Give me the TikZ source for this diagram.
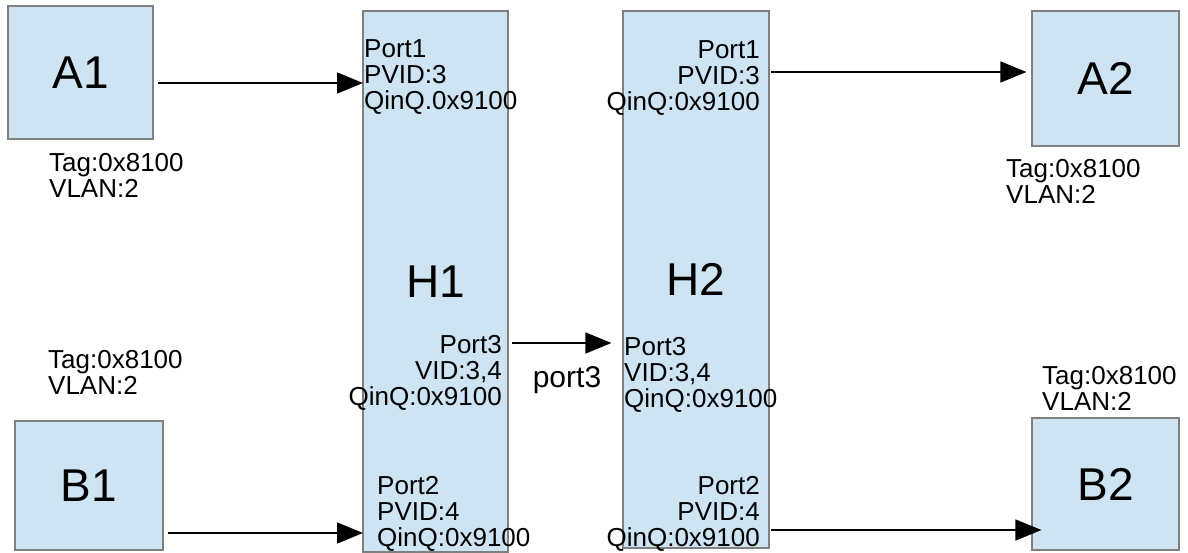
\documentclass[tikz,border=0pt]{standalone}
\usepackage{fontspec}
\setmainfont{Liberation Sans}
\usetikzlibrary{arrows.meta}
\definecolor{boxblue}{RGB}{207,228,243}
\definecolor{boxline}{RGB}{128,128,128}
\tikzset{
  dev/.style={draw=boxline, line width=1.2pt, fill=boxblue, inner sep=0pt,
    font=\fontsize{46}{46}\selectfont},
  txt/.style={inner sep=0pt, font=\fontsize{26}{26}\selectfont},
  link/.style={line width=1.5pt, -{Triangle[length=26pt,width=21pt]}}
}
\begin{document}
\begin{tikzpicture}[x=1pt,y=-1pt]
\useasboundingbox (0,0) rectangle (1188,553);

% hosts
\node[dev, minimum width=145pt, minimum height=133pt] (A1) at (80.5,72.5) {A1};
\node[dev, minimum width=148pt, minimum height=129pt] (B1) at (89,485.5) {B1};
\node[dev, minimum width=147pt, minimum height=135pt] (A2) at (1105.5,78.5) {A2};
\node[dev, minimum width=147pt, minimum height=132pt] (B2) at (1105.5,484) {B2};

% switches
\node[dev, minimum width=145pt, minimum height=541pt] (H1) at (435.5,281.5) {H1};
\node[dev, minimum width=146pt, minimum height=537pt] (H2) at (696,279.5) {H2};

% tags
\node[txt, anchor=north west, align=left] (tagA1) at (49,153) {Tag:0x8100\\VLAN:2};
\node[txt, anchor=north west, align=left] (tagB1) at (48,350) {Tag:0x8100\\VLAN:2};
\node[txt, anchor=north west, align=left] (tagA2) at (1006,159) {Tag:0x8100\\VLAN:2};
\node[txt, anchor=north west, align=left] (tagB2) at (1042,366) {Tag:0x8100\\VLAN:2};

% ports
\node[txt, anchor=north west, align=left] (h1p1) at (364,39) {Port1\\PVID:3\\QinQ.0x9100};
\node[txt, anchor=north east, align=right] (h1p3) at (502,335) {Port3\\VID:3,4\\QinQ:0x9100};
\node[txt, anchor=north west, align=left] (h1p2) at (377,476) {Port2\\PVID:4\\QinQ:0x9100};
\node[txt, anchor=north east, align=right] (h2p1) at (760,40) {Port1\\PVID:3\\QinQ:0x9100};
\node[txt, anchor=north west, align=left] (h2p3) at (624,337) {Port3\\VID:3,4\\QinQ:0x9100};
\node[txt, anchor=north east, align=right] (h2p2) at (760,476) {Port2\\PVID:4\\QinQ:0x9100};

\node[txt, font=\fontsize{30}{30}\selectfont] (trunk) at (567,380) {port3};

% links
\coordinate (inA1) at (363,83);
\coordinate (inB1) at (363,533);
\coordinate (out3) at (508,343);
\coordinate (outA2) at (769,72);
\coordinate (outB2) at (769,530);

\draw[link, shorten <=4pt] (A1.east |- inA1) -- (inA1);
\draw[link, shorten <=4pt] (B1.east |- inB1) -- (inB1);
\draw[link, shorten <=4pt, shorten >=11pt] (out3) -- (H2.west |- out3);
\draw[link, shorten <=2pt, shorten >=5pt] (outA2) -- (A2.west |- outA2);
\draw[link, shorten <=2pt, shorten >=-10pt] (outB2) -- (B2.west |- outB2);

\end{tikzpicture}
\end{document}
